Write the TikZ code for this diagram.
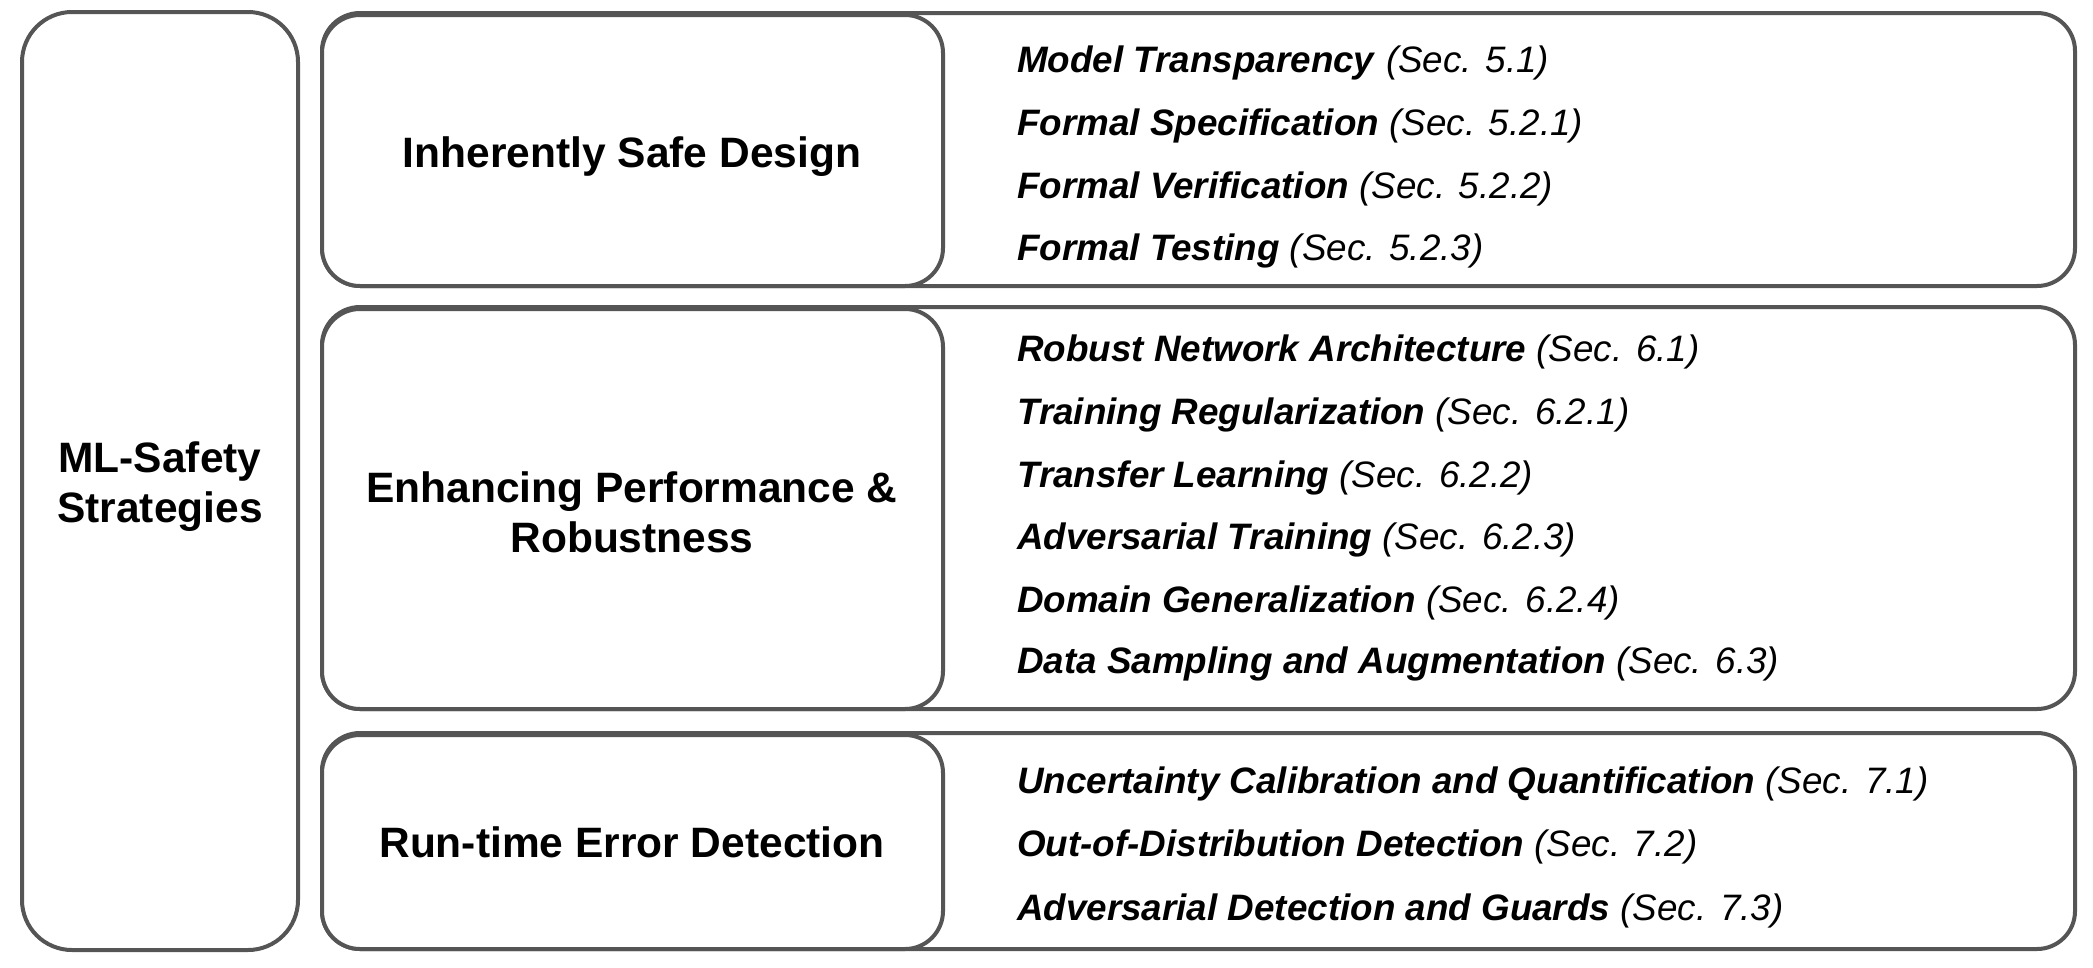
\documentclass[tikz,border=0pt]{standalone}
\usepackage{fontspec}
\setmainfont{Liberation Sans}
\begin{document}
\begin{tikzpicture}[x=1pt,y=-1pt,
  frame/.style={draw=boxgray,line width=4pt,fill=white},
  heading/.style={font=\fontsize{42.5}{50}\selectfont\bfseries,align=center,inner sep=0pt},
  item/.style={font=\fontsize{36.8}{44}\selectfont,anchor=base west,inner sep=0pt}]
\definecolor{boxgray}{HTML}{555555}
\useasboundingbox (0,0) rectangle (2093,967);

% left column
\draw[frame,rounded corners=50pt] (22,12) rectangle (298,950);
\node[heading] (ml) at (160,487) {ML-Safety\\Strategies};

% outer frames of the three groups
\draw[frame,rounded corners=38pt] (322,13) rectangle (2075,286);
\draw[frame,rounded corners=38pt] (322,307) rectangle (2075,709);
\draw[frame,rounded corners=38pt] (322,733) rectangle (2075,949);

% inner heading boxes
\draw[frame,rounded corners=38pt] (322,15) rectangle (943,286);
\draw[frame,rounded corners=38pt] (322,309) rectangle (943,709);
\draw[frame,rounded corners=38pt] (322,735) rectangle (943,949);

\node[heading,anchor=base] (isd) at (632,167) {Inherently Safe Design};
\node[heading] (epr) at (632,512.5) {Enhancing Performance \&\\Robustness};
\node[heading,anchor=base] (red) at (632,857) {Run-time Error Detection};

% group 1 items
\node[item] (a1) at (1017,72)  {\textbf{\textit{Model Transparency}} \textit{(Sec. 5.1)}};
\node[item] (a2) at (1017,135) {\textbf{\textit{Formal Specification}} \textit{(Sec. 5.2.1)}};
\node[item] (a3) at (1017,198) {\textbf{\textit{Formal Verification}} \textit{(Sec. 5.2.2)}};
\node[item] (a4) at (1017,260) {\textbf{\textit{Formal Testing}} \textit{(Sec. 5.2.3)}};

% group 2 items
\node[item] (b1) at (1017,361) {\textbf{\textit{Robust Network Architecture}} \textit{(Sec. 6.1)}};
\node[item] (b2) at (1017,424) {\textbf{\textit{Training Regularization}} \textit{(Sec. 6.2.1)}};
\node[item] (b3) at (1017,487) {\textbf{\textit{Transfer Learning}} \textit{(Sec. 6.2.2)}};
\node[item] (b4) at (1017,549) {\textbf{\textit{Adversarial Training}} \textit{(Sec. 6.2.3)}};
\node[item] (b5) at (1017,612) {\textbf{\textit{Domain Generalization}} \textit{(Sec. 6.2.4)}};
\node[item] (b6) at (1017,673) {\textbf{\textit{Data Sampling and Augmentation}} \textit{(Sec. 6.3)}};

% group 3 items
\node[item] (c1) at (1017,793) {\textbf{\textit{Uncertainty Calibration and Quantification}} \textit{(Sec. 7.1)}};
\node[item] (c2) at (1017,856) {\textbf{\textit{Out-of-Distribution Detection}} \textit{(Sec. 7.2)}};
\node[item] (c3) at (1017,920) {\textbf{\textit{Adversarial Detection and Guards}} \textit{(Sec. 7.3)}};
\end{tikzpicture}
\end{document}
